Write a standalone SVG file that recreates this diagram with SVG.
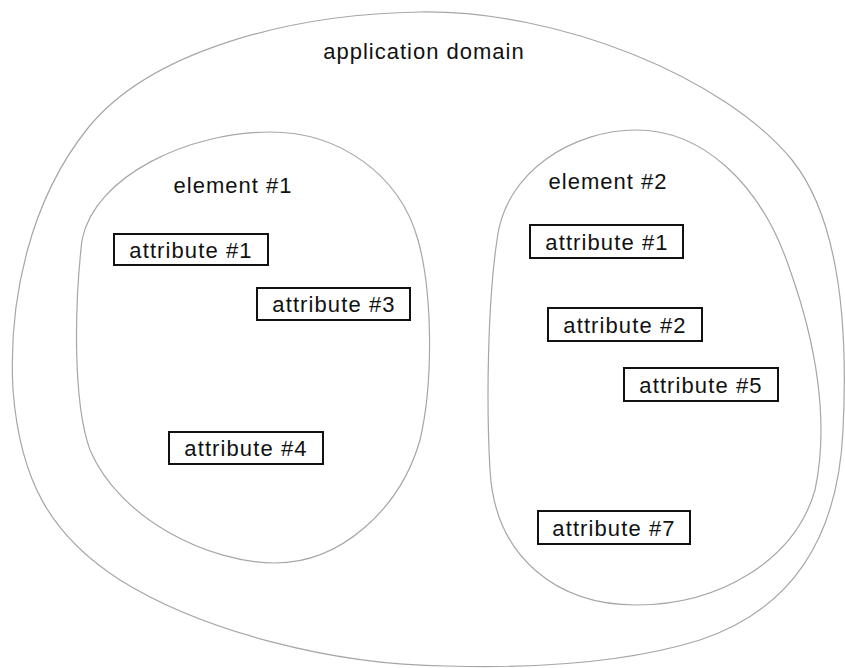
<svg xmlns="http://www.w3.org/2000/svg" width="845" height="668" viewBox="0 0 845 668">
  <style>
    .region { fill: none; stroke: #a6a6a6; stroke-width: 1.2; }
    .box { fill: #ffffff; stroke: #111; stroke-width: 2; }
    .label { font-family: "Liberation Sans", Arial, sans-serif; font-size: 22px; fill: #111; text-anchor: middle; letter-spacing: 1px; }
    .attr { font-family: "Liberation Sans", Arial, sans-serif; font-size: 22px; fill: #111; text-anchor: middle; letter-spacing: 1.1px; }
  </style>

  <!-- outer region: application domain -->
  <g id="application-domain">
    <path class="region" d="M420,12 C560,10 725,78 792,160 C840,220 848,330 843,430 C838,540 790,610 700,640 C620,665 520,668 447,666 C330,665 200,630 120,580 C50,535 20,480 13,390 C8,300 30,200 88,128 C150,51 290,14 420,12 Z"/>
    <text class="label" x="424" y="59">application domain</text>
  </g>

  <!-- element #1 region -->
  <g id="element-1">
    <path class="region" d="M270,132 C340,132 400,175 418,240 C432,290 434,380 420,440 C400,510 340,563 275,563 C210,563 120,520 90,450 C72,400 75,300 82,240 C95,175 190,132 270,132 Z"/>
    <text class="label" x="233" y="193">element #1</text>
  </g>

  <!-- element #2 region -->
  <g id="element-2">
    <path class="region" d="M636,130 C700,130 760,180 790,270 C815,340 830,420 815,490 C795,560 720,605 636,605 C560,605 495,560 490,470 C486,400 488,300 497,240 C505,170 575,130 636,130 Z"/>
    <text class="label" x="608" y="189">element #2</text>
  </g>

  <!-- attributes of element #1 -->
  <g id="e1-attribute-1">
    <rect class="box" x="114" y="234" width="154" height="31"/>
    <text class="attr" x="191" y="258">attribute #1</text>
  </g>
  <g id="e1-attribute-3">
    <rect class="box" x="257" y="288" width="153" height="32"/>
    <text class="attr" x="334" y="312">attribute #3</text>
  </g>
  <g id="e1-attribute-4">
    <rect class="box" x="169" y="432" width="154" height="32"/>
    <text class="attr" x="246" y="456">attribute #4</text>
  </g>

  <!-- attributes of element #2 -->
  <g id="e2-attribute-1">
    <rect class="box" x="530" y="225" width="153" height="33"/>
    <text class="attr" x="607" y="250">attribute #1</text>
  </g>
  <g id="e2-attribute-2">
    <rect class="box" x="548" y="308" width="154" height="33"/>
    <text class="attr" x="625" y="333">attribute #2</text>
  </g>
  <g id="e2-attribute-5">
    <rect class="box" x="624" y="368" width="154" height="33"/>
    <text class="attr" x="701" y="393">attribute #5</text>
  </g>
  <g id="e2-attribute-7">
    <rect class="box" x="538" y="511" width="152" height="33"/>
    <text class="attr" x="614" y="536">attribute #7</text>
  </g>

  <!-- no connectors in this diagram -->
  <g id="connectors"/>
</svg>
